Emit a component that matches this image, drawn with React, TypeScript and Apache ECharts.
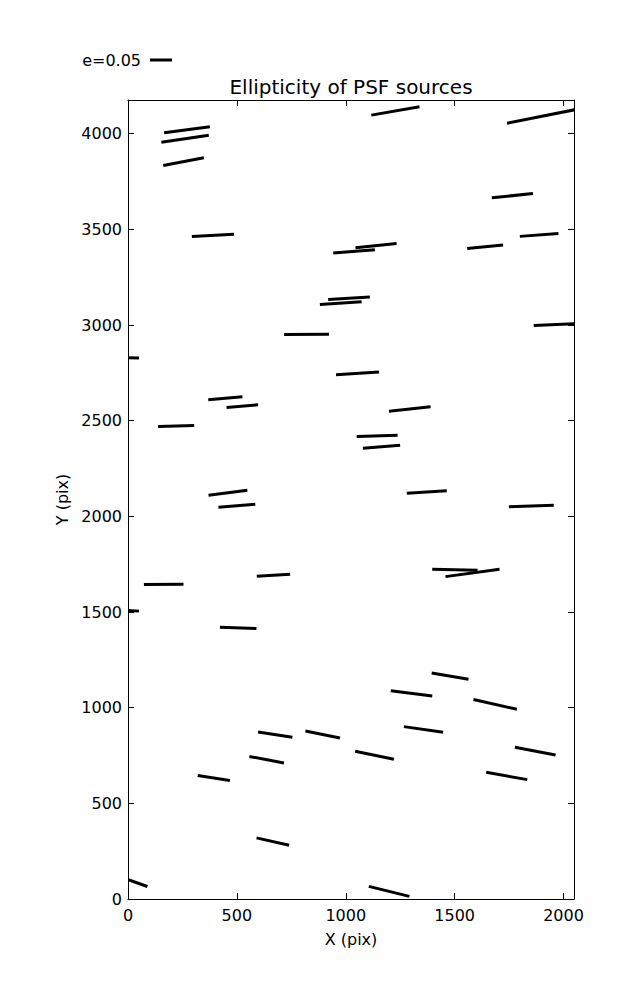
import React, { useEffect, useRef } from "react";
import * as echarts from "echarts";

// PSF source whiskers: centre (pix), ellipticity e, position angle (deg, CCW from +X)
const srcX = [271, 262, 255, 390, 1038, 1015, 977, 1228, 1901, 1765, 1139, 1640, 1888, 820, 10, 1054, 447, 525, 221, 459, 1960, 1294, 1144, 1164, 1372, 500, 164, 668, 10, 506, 1852, 1501, 1582, 1479, 1302, 1686, 1357, 676, 894, 1870, 1132, 637, 394, 1739, 665, 10, 1199];
const srcY = [4021, 3974, 3854, 3469, 3385, 3140, 3114, 4119, 4091, 3676, 3415, 3409, 3471, 2951, 2829, 2747, 2617, 2576, 2472, 2123, 3002, 2561, 2420, 2364, 2127, 2055, 1644, 1692, 1507, 1417, 2054, 1721, 1704, 1165, 1075, 1017, 886, 859, 860, 773, 751, 728, 632, 643, 300, 97, 40];
const srcE = [0.105, 0.109, 0.094, 0.096, 0.095, 0.095, 0.095, 0.111, 0.162, 0.094, 0.094, 0.082, 0.088, 0.102, 0.04, 0.098, 0.078, 0.072, 0.082, 0.089, 0.096, 0.095, 0.093, 0.085, 0.091, 0.084, 0.09, 0.076, 0.04, 0.083, 0.102, 0.103, 0.124, 0.085, 0.095, 0.101, 0.09, 0.079, 0.08, 0.094, 0.09, 0.08, 0.074, 0.095, 0.076, 0.083, 0.095];
const srcAngle = [7.5, 8.4, 10.7, 3.1, 4.7, 3.4, 3.7, 9.9, 11.3, 6.0, 6.0, 5.2, 4.4, 0.4, -2, 3.5, 5.0, 4.9, 1.6, 7.3, 2.3, 6.1, 1.8, 4.6, 3.4, 4.6, 0.4, 3.4, -3, -2.0, 2.0, -1.3, 7.7, -9.8, -7.3, -12.6, -8.3, -8.9, -11.4, -10.6, -11.7, -10.8, -8.9, -10.1, -12.8, -19.4, -13.8];

const xTicks = [0, 500, 1000, 1500, 2000];
const yTicks = [0, 500, 1000, 1500, 2000, 2500, 3000, 3500, 4000];
const X_MAX = 2048;
const Y_MAX = 4176;
const KEY_E = 0.05;

const PX_PER_E = 440;
const FONT = "DejaVu Sans";

export default function App() {
  const ref = useRef<HTMLDivElement>(null);
  useEffect(() => {
    if (!ref.current) return;
    const chart = echarts.init(ref.current, null, { renderer: "svg" });
    const data = srcX.map((x, i) => [x, srcY[i], srcE[i], srcAngle[i]]);
    const fmt = (ticks: number[]) => (v: number) => (ticks.indexOf(v) >= 0 ? String(v) : "");
    const baseAxisLine = { show: true, onZero: false, lineStyle: { color: "#000", width: 1 } };
    const baseTick = { show: true, inside: true, length: 6, lineStyle: { color: "#000", width: 1 } };
    const labelStyle = { color: "#000", fontSize: 16, fontFamily: FONT };
    chart.setOption({
      animation: false,
      backgroundColor: "#fff",
      grid: { left: 128, top: 100, width: 446, height: 799, show: false },
      xAxis: [
        {
          type: "value", position: "bottom", min: 0, max: X_MAX, interval: 500,
          axisLine: baseAxisLine, axisTick: baseTick, splitLine: { show: false },
          axisLabel: { ...labelStyle, margin: 8, formatter: fmt(xTicks) },
          name: "X (pix)", nameLocation: "middle", nameGap: 32,
          nameTextStyle: { color: "#000", fontSize: 16, fontFamily: FONT },
        },
        {
          type: "value", position: "top", min: 0, max: X_MAX, interval: 500,
          axisLine: baseAxisLine, axisTick: baseTick, splitLine: { show: false },
          axisLabel: { show: false },
        },
      ],
      yAxis: [
        {
          type: "value", position: "left", min: 0, max: Y_MAX, interval: 500,
          axisLine: baseAxisLine, axisTick: baseTick, splitLine: { show: false },
          axisLabel: { ...labelStyle, margin: 6, formatter: fmt(yTicks) },
          name: "Y (pix)", nameLocation: "middle", nameGap: 58,
          nameTextStyle: { color: "#000", fontSize: 16, fontFamily: FONT },
        },
        {
          type: "value", position: "right", min: 0, max: Y_MAX, interval: 500,
          axisLine: baseAxisLine, axisTick: baseTick, splitLine: { show: false },
          axisLabel: { show: false },
        },
      ],
      graphic: [
        {
          type: "text", x: 351, y: 87,
          style: { text: "Ellipticity of PSF sources", fill: "#000", fontSize: 20, fontFamily: FONT, textAlign: "center", textVerticalAlign: "middle" },
        },
        {
          type: "text", x: 141, y: 60,
          style: { text: "e=" + KEY_E.toFixed(2), fill: "#000", fontSize: 16, fontFamily: FONT, textAlign: "right", textVerticalAlign: "middle" },
        },
        {
          type: "line",
          shape: { x1: 150, y1: 60, x2: 150 + KEY_E * PX_PER_E, y2: 60 },
          style: { stroke: "#000", lineWidth: 3 },
        },
      ],
      series: [
        {
          type: "custom",
          coordinateSystem: "cartesian2d",
          clip: true,
          encode: { x: 0, y: 1 },
          data,
          renderItem: (params: any, api: any) => {
            const c = api.coord([api.value(0), api.value(1)]);
            const half = (api.value(2) * PX_PER_E) / 2;
            const a = (api.value(3) * Math.PI) / 180;
            const dx = Math.cos(a) * half;
            const dy = Math.sin(a) * half;
            return {
              type: "line",
              shape: { x1: c[0] - dx, y1: c[1] + dy, x2: c[0] + dx, y2: c[1] - dy },
              style: { stroke: "#000", lineWidth: 3 },
            };
          },
        },
      ],
    });
    return () => chart.dispose();
  }, []);
  return (
    <div
      ref={ref}
      style={{ position: "fixed", left: 0, top: 0, width: 637, height: 1000, background: "#fff" }}
    />
  );
}
